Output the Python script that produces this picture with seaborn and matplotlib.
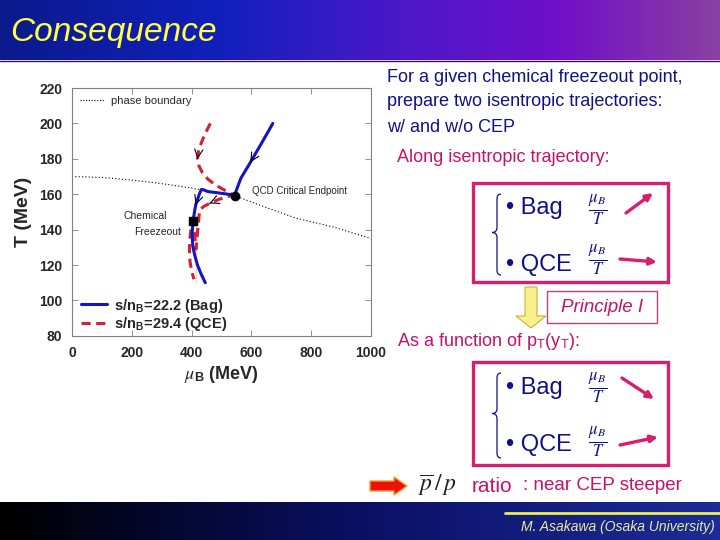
import numpy as np
import matplotlib
matplotlib.use("Agg")
import matplotlib.pyplot as plt
import seaborn as sns
from matplotlib.colors import LinearSegmentedColormap
from matplotlib.patches import Rectangle, Polygon, PathPatch
from matplotlib.path import Path
from matplotlib.lines import Line2D

# --- data (mu_B in MeV, T in MeV) ---
boundary_mu = [0, 100, 200, 300, 400, 547, 650, 750, 875, 1000]
boundary_T = [170, 169.5, 168, 166, 163.5, 159, 152.5, 146.5, 141.5, 135]

bag_mu = [672, 635, 597, 565, 544, 510, 480, 455, 440, 433, 426, 414, 405, 402, 404, 410, 420, 432, 446]
bag_T = [200, 189, 178, 169, 159.5, 160.3, 161, 161.5, 162.5, 162.7, 160, 154, 145, 138, 131, 126, 120, 115, 110]

qce_mu = [463, 448, 435, 424, 420, 425, 437, 455, 478, 503, 525, 540, 516, 490, 460, 440, 427, 415, 405, 398, 394, 393, 395, 400, 408, 415]
qce_T = [200, 195, 190, 185, 180, 176, 172, 168.5, 165.5, 163, 161, 159.5, 158.5, 157, 154.8, 153, 151, 148, 145, 140, 134, 128, 122, 117, 112, 110]

freezeout = (405, 145)
cep = (547, 159)

bag_label = r"s/n$_{\mathregular{B}}$=22.2 (Bag)"
qce_label = r"s/n$_{\mathregular{B}}$=29.4 (QCE)"

x_ticks = [0, 200, 400, 600, 800, 1000]
y_ticks = [80, 100, 120, 140, 160, 180, 200, 220]

sns.set_theme(style="ticks")
plt.rcParams["font.family"] = ["Liberation Sans", "DejaVu Sans"]
plt.rcParams["mathtext.fontset"] = "stix"

NAVY = "#10108a"
MAGENTA = "#c8106a"
BOXPINK = "#d81e6e"

fig = plt.figure(figsize=(7.2, 5.4), dpi=100)

# background canvas in pixel coordinates
bg = fig.add_axes([0, 0, 1, 1])
bg.axis("off")
title_cmap = LinearSegmentedColormap.from_list(
    "title", [(0, "#0c1a8c"), (0.3, "#1020bc"), (0.55, "#4a18c8"), (0.78, "#7010c8"), (1, "#8a40a0")])
foot_cmap = LinearSegmentedColormap.from_list(
    "foot", [(0, "#000000"), (0.5, "#0a1064"), (1, "#1c2c98")])
grad = np.linspace(0, 1, 256).reshape(1, -1)
bg.imshow(grad, cmap=title_cmap, extent=(0, 720, 60, 0), aspect="auto")
bg.imshow(grad, cmap=foot_cmap, extent=(0, 720, 540, 502), aspect="auto")
bg.plot([0, 720], [60.5, 60.5], color="#3a1060", lw=1)
bg.set_xlim(0, 720)
bg.set_ylim(540, 0)

bg.text(10, 32, "Consequence", color="#ffff44", fontsize=24, style="italic", va="center", ha="left")

# footer
bg.plot([505, 720], [513, 513], color="#eeee50", lw=2)
bg.text(715, 527, "M. Asakawa (Osaka University)", color="#eaeaa0", fontsize=10, style="italic",
        ha="right", va="center")

# right-hand text
lines = ["For a given chemical freezeout point,", "prepare two isentropic trajectories:", "w/ and w/o CEP"]
for i, s in enumerate(lines):
    bg.text(387, 77 + 25 * i, s, color=NAVY, fontsize=13, va="center", ha="left")
bg.text(397, 158, "Along isentropic trajectory:", color=MAGENTA, fontsize=13, va="center")
bg.text(397, 341, r"As a function of p$_{\mathregular{T}}$(y$_{\mathregular{T}}$):", color=MAGENTA,
        fontsize=13, va="center")


def brace(x, y0, y1, ym):
    verts = [(x + 4, y0), (x, y0), (x, y0 + 5), (x, ym - 5), (x, ym), (x - 5, ym),
             (x, ym), (x, ym + 5), (x, y1 - 5), (x, y1), (x + 4, y1)]
    codes = [Path.MOVETO, Path.CURVE3, Path.CURVE3, Path.LINETO, Path.CURVE3, Path.CURVE3,
             Path.CURVE3, Path.CURVE3, Path.LINETO, Path.CURVE3, Path.CURVE3]
    bg.add_patch(PathPatch(Path(verts, codes), fill=False, ec=NAVY, lw=0.9))


def box(top, bottom, row1, row2, arr1, arr2):
    bg.add_patch(Rectangle((473, top), 195, bottom - top, fill=False, ec=BOXPINK, lw=2.4))
    brace(497, top + 11, bottom - 7, (top + bottom) / 2)
    for (ty, fy), name, (a, b) in zip([row1, row2], ["Bag", "QCE"], [arr1, arr2]):
        bg.text(506, ty, u"\u2022 " + name, color=NAVY, fontsize=17, va="center")
        bg.text(598, fy, r"$\frac{\mu_B}{T}$", color=NAVY, fontsize=17, va="center", ha="center")
        bg.annotate("", xy=b, xytext=a,
                    arrowprops=dict(arrowstyle="-|>", color=BOXPINK, lw=2.4, mutation_scale=10,
                                    shrinkA=0, shrinkB=0))


box(183, 282, (208, 210), (265, 260), ((626, 213), (653, 193)), ((620, 259), (657, 262)))
box(362, 465, (388, 388), (445, 442), ((622, 378), (654, 399)), ((620, 445), (658, 437)))

# yellow down arrow + Principle I
bg.add_patch(Polygon([(525, 287), (537, 287), (537, 316), (546, 316), (531, 328), (516, 316), (525, 316)],
                     closed=True, fc="#f8f08a", ec="#c8b040", lw=0.8))
bg.add_patch(Rectangle((547, 291), 110, 32, fill=False, ec="#c0407a", lw=1))
bg.text(602, 307, "Principle I", color=MAGENTA, fontsize=13.5, style="italic", ha="center", va="center")

# bottom red arrow + ratio text
bg.add_patch(Polygon([(370, 481), (394, 481), (394, 477), (407, 486), (394, 495), (394, 491), (370, 491)],
                     closed=True, fc="#ee1010", ec="#f0a020", lw=1))
bg.text(418, 485, r"$\overline{p}\,/\,p$", color="#202020", fontsize=17, va="center")
bg.text(472, 487, "ratio", color=MAGENTA, fontsize=15, va="center")
bg.text(523, 486, ": near CEP steeper", color=MAGENTA, fontsize=13.5, va="center")

# --- the phase diagram ---
ax = fig.add_axes([0.1, 0.378, 0.415, 0.459])
ax.set_facecolor("white")
sns.lineplot(x=boundary_mu, y=boundary_T, sort=False, ax=ax, color="black", lw=0.8,
             linestyle=(0, (1, 2)))
sns.lineplot(x=qce_mu, y=qce_T, sort=False, ax=ax, color="#d42032", lw=2.2,
             linestyle=(0, (3, 1.8)))
sns.lineplot(x=bag_mu, y=bag_T, sort=False, ax=ax, color="#1414c0", lw=2.2)
ax.plot(*freezeout, marker="s", color="black", ms=6, ls="none", zorder=5)
ax.plot(*cep, marker="o", color="black", ms=6, ls="none", zorder=5)


def chevron(mu, T, i):
    # open arrow head on the curve pointing from point i to point i+1
    x1, y1 = mu[i + 1], T[i + 1]
    dx, dy = x1 - mu[i], y1 - T[i]
    ax.annotate("", xy=(x1, y1), xytext=(x1 - 0.02 * dx, y1 - 0.02 * dy),
                arrowprops=dict(arrowstyle="->", color="black", lw=0.8, mutation_scale=15,
                                shrinkA=0, shrinkB=0))


chevron(qce_mu, qce_T, 3)
chevron(qce_mu, qce_T, 13)
chevron(bag_mu, bag_T, 1)
chevron(bag_mu, bag_T, 10)

ax.text(601, 161.8, "QCD Critical Endpoint", fontsize=7, va="center", ha="left")
ax.text(172, 147.8, "Chemical", fontsize=7.5, va="center", ha="left")
ax.text(209, 138.8, "Freezeout", fontsize=7.5, va="center", ha="left")

ax.set_xlim(0, 1000)
ax.set_ylim(80, 220)
ax.set_xticks(x_ticks)
ax.set_yticks(y_ticks)
ax.tick_params(direction="in", top=True, right=True, length=4, width=0.6, color="#808080",
               labelsize=10, pad=7)
for lab in ax.get_xticklabels() + ax.get_yticklabels():
    lab.set_fontweight("bold")
for sp in ax.spines.values():
    sp.set_visible(True)
    sp.set_color("#808080")
    sp.set_linewidth(0.8)
ax.set_xlabel(r"$\mu_{\mathregular{B}}$ (MeV)", fontsize=13, fontweight="bold", labelpad=3)
ax.set_ylabel("T (MeV)", fontsize=14, fontweight="bold", labelpad=5)

lines_ax = ax.get_lines()
leg1 = ax.legend([lines_ax[2], lines_ax[1]], [bag_label, qce_label], loc="lower left",
                 bbox_to_anchor=(0.0, -0.025), frameon=False,
                 prop={"weight": "bold", "size": 10.5}, handlelength=1.8,
                 borderaxespad=0.2, labelspacing=0.05, handletextpad=0.5)
ax.add_artist(leg1)
ax.legend([Line2D([], [], color="black", lw=0.8, linestyle=(0, (1, 1.5)))], ["phase boundary"],
          loc="upper left", frameon=False, prop={"size": 8}, handlelength=2.2,
          borderaxespad=0.3, handletextpad=0.6)

fig.savefig("out.png", dpi=100)
